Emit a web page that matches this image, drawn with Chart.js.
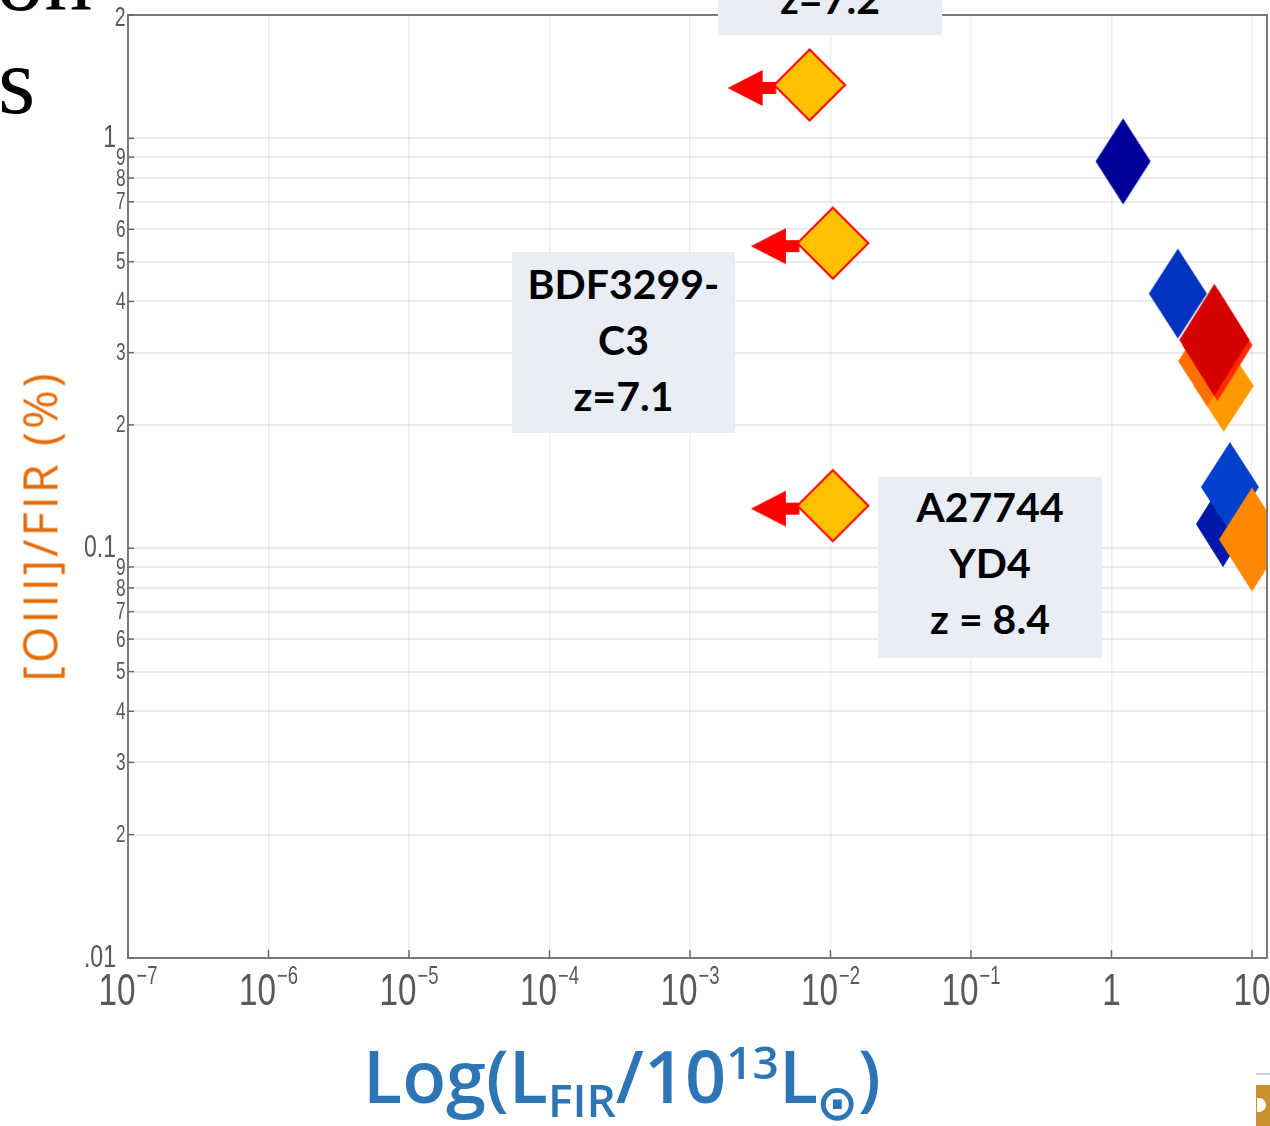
<!DOCTYPE html>
<html>
<head>
<meta charset="utf-8">
<script src="https://cdn.jsdelivr.net/npm/chart.js@4.4.1/dist/chart.umd.min.js"></script>
<style>
  html, body { margin: 0; padding: 0; background: #fff; overflow: hidden; }
  #wrap { position: relative; width: 1270px; height: 1126px; overflow: hidden; background: #fff; }
  #chart { position: absolute; left: 0; top: 0; }
  .slide { position: absolute; font-family: 'Liberation Serif', 'DejaVu Serif', serif; font-size: 96px; line-height: 1; color: #000; white-space: nowrap; }
  .note { position: absolute; background: #e9edf6; font-family: Lato, 'Open Sans', sans-serif; font-weight: 700; font-size: 41px; line-height: 56px; color: #000; text-align: center; box-sizing: border-box; white-space: nowrap; }
  #ytitle { position: absolute; left: 40px; top: 526px; width: 0; height: 0; }
  #ytitle span { position: absolute; left: 0; top: 0; transform: translate(-50%, -50%) rotate(-90deg); white-space: nowrap; font-family: 'Open Sans', sans-serif; font-weight: 500; font-size: 47px; letter-spacing: 3px; line-height: 1; color: #e46c0a; }
  #xtitle { position: absolute; left: 363px; top: 1039px; font-family: 'Open Sans', sans-serif; font-weight: 600; font-size: 72px; line-height: 72px; color: #2e75b6; white-space: nowrap; }
  #xtitle .lo { font-size: 46px; position: relative; top: 14px; line-height: 1; }
  #xtitle .hi { font-size: 46px; position: relative; top: -24px; line-height: 1; }
  #xtitle .sun { font-family: 'DejaVu Sans', sans-serif; font-size: 50px; position: relative; top: 17px; line-height: 1; margin-left: -2px; }
</style>
</head>
<body>
<div id="wrap">
  <canvas id="chart" width="1270" height="1126"></canvas>

  <div class="slide" style="right:1178px; top:-70px;">on</div>
  <div class="slide" style="left:-2px; top:33px;">s</div>

  <div style="position:absolute; left:0; top:938px; width:86px; height:40px; background:#fff;"></div>

  <div id="ytitle"><span>[OIII]/FIR (%)</span></div>
  <div id="xtitle">Log(L<span class="lo">FIR</span>/10<span class="hi">13</span>L<span class="sun">⊙</span>)</div>

  <div class="note" style="left:718px; top:-40px; width:224px; height:75px; padding-top:11px;">z=7.2</div>
  <div class="note" style="left:512px; top:252px; width:223px; height:181px; padding-top:4px;">BDF3299-<br>C3<br>z=7.1</div>
  <div class="note" style="left:878px; top:477px; width:224px; height:181px; padding-top:2px;">A27744<br>YD4<br>z = 8.4</div>

  <div style="position:absolute; left:1256px; top:1073px; width:14px; height:2px; background:#c9d6ec;"></div>
  <div style="position:absolute; left:1256px; top:1085px; width:14px; height:41px; background:#c8902f;"></div>
  <div style="position:absolute; left:1257px; top:1098px; width:9px; height:14px; background:#fff; border-radius:0 7px 7px 0;"></div>
</div>

<script>
// Upper limits on L_FIR (sources with only an [OIII] detection)
const lfirLimit  = [7.1e-3, 1.04e-2, 1.04e-2];
const ratioLimit = [1.35, 0.555, 0.127];

// Detected sources, listed back to front
const lfirDetected  = [6.3, 4.8, 2.97, 5.68, 5.4, 1.21, 6.22, 6.97, 10.0];
const ratioDetected = [0.249, 0.286, 0.418, 0.313, 0.3225, 0.879, 0.1145, 0.141, 0.105];

// Axis ticks
const xTickValues = [1e-7, 1e-6, 1e-5, 1e-4, 1e-3, 1e-2, 1e-1, 1, 10];
const xTickLabels = ['10^-7', '10^-6', '10^-5', '10^-4', '10^-3', '10^-2', '10^-1', '1', '10'];
const yTickValues = [0.01, 0.02, 0.03, 0.04, 0.05, 0.06, 0.07, 0.08, 0.09,
                     0.1, 0.2, 0.3, 0.4, 0.5, 0.6, 0.7, 0.8, 0.9, 1, 2];
const yTickLabels = ['0.01', '2', '3', '4', '5', '6', '7', '8', '9',
                     '0.1', '2', '3', '4', '5', '6', '7', '8', '9', '1', '2'];

// Marker appearance for the detected sources
const detectedFill  = ['#ff9900', '#ff7000', '#0033bf', '#ff2a00', '#d60000', '#000099', '#0019aa', '#0040cc', '#ff8800'];
const detectedHalfW = [30, 29, 29, 35, 35, 27.5, 27, 29, 33];
const detectedHalfH = [46, 45, 45, 56, 56, 43, 43, 45, 52];

function diamondCanvas(hw, hh, fill) {
  const c = document.createElement('canvas');
  c.width = Math.ceil(hw + 2) * 2;
  c.height = Math.ceil(hh + 2) * 2;
  const g = c.getContext('2d');
  const cx = c.width / 2, cy = c.height / 2;
  g.beginPath();
  g.moveTo(cx, cy - hh); g.lineTo(cx + hw, cy); g.lineTo(cx, cy + hh); g.lineTo(cx - hw, cy);
  g.closePath();
  g.fillStyle = fill;
  g.fill();
  return c;
}

// Yellow diamond with a red leftward arrow marking an upper limit
function limitCanvas() {
  const r = 35.5, reach = 82;
  const c = document.createElement('canvas');
  c.width = (reach + 3) * 2;
  c.height = 80;
  const g = c.getContext('2d');
  const cx = c.width / 2, cy = c.height / 2;
  const ay = cy + 3;
  g.fillStyle = '#ff0000';
  g.beginPath();
  g.moveTo(cx - reach, ay); g.lineTo(cx - 47, ay - 18); g.lineTo(cx - 47, ay + 18);
  g.closePath();
  g.fill();
  g.fillRect(cx - 48, ay - 6, 48 - r + 2, 12);
  g.beginPath();
  g.moveTo(cx, cy - r); g.lineTo(cx + r, cy); g.lineTo(cx, cy + r); g.lineTo(cx - r, cy);
  g.closePath();
  g.fillStyle = '#ffc000';
  g.fill();
  g.lineWidth = 2;
  g.strokeStyle = '#ff0000';
  g.stroke();
  return c;
}

const detectedStyles = detectedFill.map((f, i) => diamondCanvas(detectedHalfW[i], detectedHalfH[i], f));
const limitStyle = limitCanvas();

const isDecade = v => Math.abs(Math.log10(v) - Math.round(Math.log10(v))) < 1e-9;

const frameAndLabels = {
  id: 'frameAndLabels',
  afterDraw(chart) {
    const { ctx, chartArea: a } = chart;
    const xs = chart.scales.x, ys = chart.scales.y;
    ctx.save();

    // top and right frame
    ctx.strokeStyle = '#7a7a7a';
    ctx.lineWidth = 2;
    ctx.beginPath();
    ctx.moveTo(a.left, a.top); ctx.lineTo(a.right, a.top); ctx.lineTo(a.right, a.bottom);
    ctx.stroke();

    // inward tick marks
    ctx.strokeStyle = '#6a6a6a';
    ctx.lineWidth = 1.5;
    yTickValues.forEach(v => {
      const py = ys.getPixelForValue(v);
      ctx.beginPath(); ctx.moveTo(a.left, py); ctx.lineTo(a.left + 6, py); ctx.stroke();
    });
    xTickValues.forEach(v => {
      const px = xs.getPixelForValue(v);
      ctx.beginPath(); ctx.moveTo(px, a.bottom); ctx.lineTo(px, a.bottom - 8); ctx.stroke();
    });

    // y tick labels (narrow digits)
    ctx.fillStyle = '#595959';
    const last = yTickValues.length - 1;
    yTickValues.forEach((v, i) => {
      const major = isDecade(v);
      const size = major ? 32 : (i === last ? 27 : 24);
      ctx.save();
      ctx.translate(major ? 116 : 125.5, ys.getPixelForValue(v) + (major ? 0 : 1) + (i === last ? 3 : 0));
      ctx.scale(0.72, 1);
      ctx.font = size + "px 'Liberation Sans', Arial, sans-serif";
      ctx.textAlign = 'right';
      ctx.textBaseline = 'middle';
      ctx.fillText(yTickLabels[i], 0, 0);
      ctx.restore();
    });

    // x tick labels with superscript exponents
    const sx = 0.74;
    const mainFont = "45px 'Liberation Sans', Arial, sans-serif";
    const supFont = "25px 'Liberation Sans', Arial, sans-serif";
    const baseY = a.bottom + 47;
    xTickValues.forEach((v, i) => {
      const parts = xTickLabels[i].split('^');
      const base = parts[0];
      const exp = parts[1] ? parts[1].replace('-', '\u2212') : '';
      ctx.font = mainFont;
      const wb = ctx.measureText(base).width * sx;
      let we = 0;
      if (exp) { ctx.font = supFont; we = ctx.measureText(exp).width * sx + 1; }
      const left = xs.getPixelForValue(v) - (wb + we) / 2;
      ctx.textAlign = 'left';
      ctx.textBaseline = 'alphabetic';
      ctx.save();
      ctx.translate(left, baseY); ctx.scale(sx, 1);
      ctx.font = mainFont; ctx.fillText(base, 0, 0);
      ctx.restore();
      if (exp) {
        ctx.save();
        ctx.translate(left + wb + 1, baseY - 21); ctx.scale(sx, 1);
        ctx.font = supFont; ctx.fillText(exp, 0, 0);
        ctx.restore();
      }
    });
    ctx.restore();
  }
};

new Chart(document.getElementById('chart'), {
  type: 'scatter',
  data: {
    datasets: [
      {
        data: lfirDetected.map((x, i) => ({ x, y: ratioDetected[i] })),
        pointStyle: detectedStyles,
        pointRadius: 30,
        clip: 0
      },
      {
        data: lfirLimit.map((x, i) => ({ x, y: ratioLimit[i] })),
        pointStyle: limitStyle,
        pointRadius: 36,
        clip: 0
      }
    ]
  },
  options: {
    responsive: false,
    animation: false,
    events: [],
    layout: { autoPadding: false, padding: { left: 0, top: 15, right: 3, bottom: 0 } },
    plugins: { legend: { display: false }, tooltip: { enabled: false } },
    scales: {
      x: {
        type: 'logarithmic',
        min: 1e-7,
        max: 12.8,
        afterBuildTicks: s => { s.ticks = xTickValues.map(v => ({ value: v, major: true })); },
        afterFit: s => { s.height = 168; },
        ticks: { display: false },
        grid: { color: 'rgba(0,0,0,0.065)', lineWidth: 1.5, drawTicks: false },
        border: { display: true, color: '#7a7a7a', width: 2 }
      },
      y: {
        type: 'logarithmic',
        min: 0.01,
        max: 2,
        afterBuildTicks: s => { s.ticks = yTickValues.map(v => ({ value: v, major: isDecade(v) })); },
        afterFit: s => { s.width = 128; },
        ticks: { display: false },
        grid: { color: 'rgba(0,0,0,0.08)', lineWidth: 2, drawTicks: false },
        border: { display: true, color: '#7a7a7a', width: 2 }
      }
    }
  },
  plugins: [frameAndLabels]
});
</script>
</body>
</html>
